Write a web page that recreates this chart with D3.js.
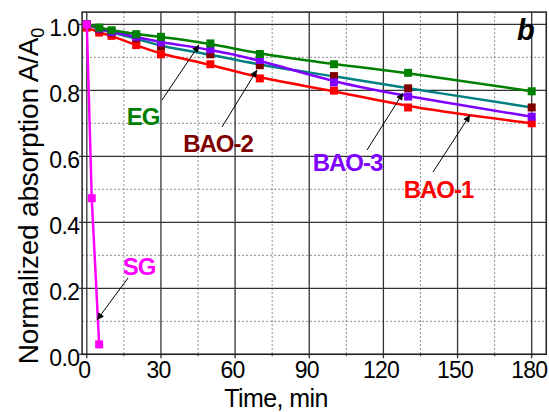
<!DOCTYPE html>
<html>
<head>
<meta charset="utf-8">
<script src="https://cdn.jsdelivr.net/npm/d3@7"></script>
<style>
  html, body { margin: 0; padding: 0; background: #fff; }
  svg { display: block; }
  text { font-family: "Liberation Sans", Arial, sans-serif; }
</style>
</head>
<body>
<svg id="chart" width="549" height="412"></svg>
<script>
// Sampling times (min) for the slow-decaying samples
const time = [0, 5, 10, 20, 30, 50, 70, 100, 130, 180];
// Normalized absorption A/A0 for each sample
const EG   = [1.000, 0.990, 0.982, 0.970, 0.962, 0.942, 0.910, 0.879, 0.853, 0.797];
const BAO1 = [0.990, 0.975, 0.965, 0.937, 0.909, 0.879, 0.836, 0.799, 0.748, 0.700];
const BAO2 = [1.000, 0.985, 0.975, 0.957, 0.933, 0.909, 0.876, 0.843, 0.806, 0.748];
const BAO3 = [1.000, 0.987, 0.977, 0.962, 0.945, 0.924, 0.892, 0.824, 0.781, 0.720];
// SG decays within a few minutes
const timeSG = [0, 2, 5];
const SG     = [1.000, 0.473, 0.030];

const xTicks = [0, 30, 60, 90, 120, 150, 180];
const yTicks = [0.0, 0.2, 0.4, 0.6, 0.8, 1.0];

const svg = d3.select("#chart");

const x = d3.scaleLinear().domain([0, 180]).range([86.8, 531.7]);
const y = d3.scaleLinear().domain([0, 1]).range([354.3, 24.3]);
const xMin = -1.9, xMax = 185.9, yMax = 1.037;

const pLeft = x(xMin), pRight = x(xMax), pTop = y(yMax), pBottom = y(0);

// Grid: dashed minor lines, solid major lines
const g = svg.append("g");
const minorX = d3.range(15, 180, 30);
const minorY = d3.range(0.1, 1.0, 0.2);
g.selectAll(".mx").data(minorX).join("line")
  .attr("x1", d => x(d)).attr("x2", d => x(d)).attr("y1", pTop).attr("y2", pBottom)
  .attr("stroke", "#8a8a8a").attr("stroke-width", 1).attr("stroke-dasharray", "2,2");
g.selectAll(".my").data(minorY).join("line")
  .attr("y1", d => y(d)).attr("y2", d => y(d)).attr("x1", pLeft).attr("x2", pRight)
  .attr("stroke", "#8a8a8a").attr("stroke-width", 1).attr("stroke-dasharray", "2,2");
g.selectAll(".Mx").data(xTicks).join("line")
  .attr("x1", d => x(d)).attr("x2", d => x(d)).attr("y1", pTop).attr("y2", pBottom + 4)
  .attr("stroke", "#333").attr("stroke-width", 1.3);
g.selectAll(".My").data(yTicks).join("line")
  .attr("y1", d => y(d)).attr("y2", d => y(d)).attr("x1", pLeft - 3).attr("x2", pRight)
  .attr("stroke", "#333").attr("stroke-width", 1.3);
// minor ticks on bottom axis
g.selectAll(".mt").data(minorX).join("line")
  .attr("x1", d => x(d)).attr("x2", d => x(d)).attr("y1", pBottom).attr("y2", pBottom + 2)
  .attr("stroke", "#333").attr("stroke-width", 1);

// Plot frame
svg.append("rect")
  .attr("x", pLeft).attr("y", pTop).attr("width", pRight - pLeft).attr("height", pBottom - pTop)
  .attr("fill", "none").attr("stroke", "#222").attr("stroke-width", 1.5);

// Tick labels
svg.append("g").selectAll("text").data(xTicks).join("text")
  .attr("x", d => x(d) - 2.5).attr("y", 377.5)
  .attr("text-anchor", "middle").attr("font-size", 23).attr("letter-spacing", -0.8)
  .attr("fill", "#000").text(d => d);
svg.append("g").selectAll("text").data(yTicks).join("text")
  .attr("x", 79.5).attr("y", d => y(d) + 11.5)
  .attr("text-anchor", "end").attr("font-size", 23).attr("letter-spacing", -0.6)
  .attr("fill", "#000").text(d => d.toFixed(1));

// Axis titles
svg.append("text").attr("x", 276).attr("y", 406.5).attr("text-anchor", "middle")
  .attr("font-size", 25).attr("letter-spacing", -0.6).text("Time, min");
const yt = svg.append("text").attr("transform", "translate(38,196) rotate(-90)")
  .attr("text-anchor", "middle").attr("font-size", 28).attr("letter-spacing", -0.2);
yt.append("tspan").text("Normalized absorption A/A");
yt.append("tspan").attr("font-size", 18).attr("dy", 6).text("0");

// Series: smooth curves for the slow samples, straight segments for SG
const smooth = d3.line().x(d => x(d[0])).y(d => y(d[1])).curve(d3.curveBasis);
const straight = d3.line().x(d => x(d[0])).y(d => y(d[1]));
const series = [
  { t: time,   v: BAO1, line: "#ff0000", mark: "#ff0000", gen: smooth },
  { t: time,   v: BAO2, line: "#008080", mark: "#800000", gen: smooth },
  { t: time,   v: BAO3, line: "#8000ff", mark: "#8000ff", gen: smooth },
  { t: time,   v: EG,   line: "#008000", mark: "#008000", gen: smooth },
  { t: timeSG, v: SG,   line: "#ff00ff", mark: "#ff00ff", gen: straight }
];
const ms = 8;
series.forEach(s => {
  const pts = s.t.map((t, i) => [t, s.v[i]]);
  svg.append("path").datum(pts).attr("d", s.gen)
    .attr("fill", "none").attr("stroke", s.line).attr("stroke-width", 2.5);
  svg.append("g").selectAll("rect").data(pts).join("rect")
    .attr("x", d => x(d[0]) - ms / 2).attr("y", d => y(d[1]) - ms / 2)
    .attr("width", ms).attr("height", ms).attr("fill", s.mark);
});

// Arrow marker
svg.append("defs").append("marker")
  .attr("id", "arr").attr("viewBox", "0 0 10 10").attr("refX", 10).attr("refY", 5)
  .attr("markerWidth", 9).attr("markerHeight", 7).attr("markerUnits", "userSpaceOnUse")
  .attr("orient", "auto")
  .append("path").attr("d", "M0,0 L10,5 L0,10 Z").attr("fill", "#000");

// Labels with pointer arrows
const labels = [
  { text: "EG",    color: "#008000", lx: 143,   ly: 125, from: [162, 100], to: [199, 45] },
  { text: "BAO-2", color: "#800000", lx: 218,   ly: 152, from: [222, 127], to: [257, 70] },
  { text: "BAO-3", color: "#8000ff", lx: 347.5, ly: 171, from: [367, 150], to: [403, 93] },
  { text: "BAO-1", color: "#ff0000", lx: 438.5, ly: 198, from: [433, 172], to: [470, 115] },
  { text: "SG",    color: "#ff00ff", lx: 139,   ly: 275, from: [128, 278], to: [97, 320] }
];
labels.forEach(l => {
  svg.append("line")
    .attr("x1", l.from[0]).attr("y1", l.from[1]).attr("x2", l.to[0]).attr("y2", l.to[1])
    .attr("stroke", "#000").attr("stroke-width", 1).attr("marker-end", "url(#arr)");
  svg.append("text").attr("x", l.lx).attr("y", l.ly).attr("text-anchor", "middle")
    .attr("font-size", 24).attr("font-weight", "bold").attr("letter-spacing", -1)
    .attr("fill", l.color).text(l.text);
});

// Panel letter
svg.append("text").attr("x", 517).attr("y", 40)
  .attr("font-size", 29).attr("font-weight", "bold").attr("font-style", "italic")
  .text("b");
</script>
</body>
</html>
